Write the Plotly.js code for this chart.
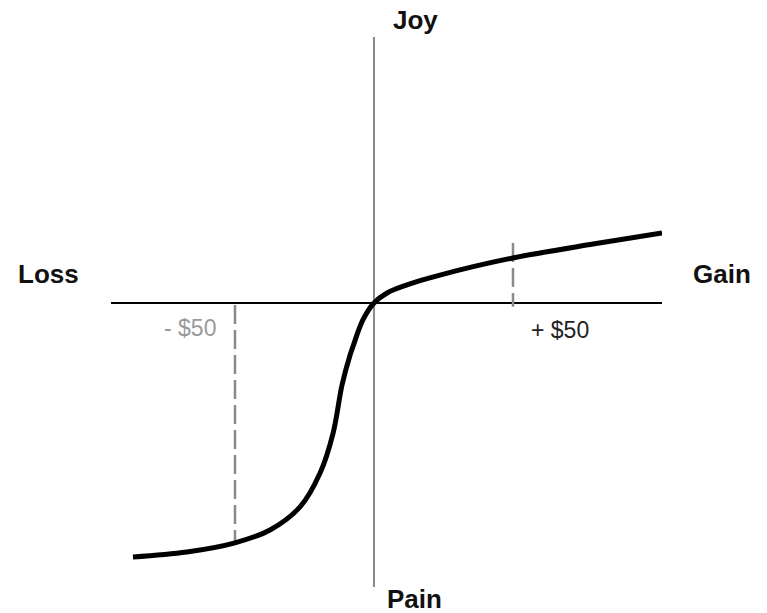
<!DOCTYPE html>
<html>
<head>
<meta charset="utf-8">
<script src="https://cdn.plot.ly/plotly-3.0.1.min.js"></script>
<style>html,body{margin:0;padding:0;background:#fff;}#chart{width:767px;height:613px;}</style>
</head>
<body>
<div id="chart"></div>
<script>
// Value function (x: dollar change, y: felt value)
var curveX = [-86.7, -67.3, -50, -37.4, -26.6, -19.4, -14.7, -11.5, -8.6, -7.6, -4.0, 0, 4.7, 11.9, 20.1, 30.9, 50, 78.8, 103.6];
var curveY = [-91.4, -89.6, -86.3, -81.7, -73.4, -61.2, -46.8, -29.5, -18.7, -15.8, -6.1, 0, 3.6, 6.5, 9.0, 11.9, 16.2, 21.2, 25.2];
// Reference markers at -$50 and +$50
var lossMarkX = [-50, -50];
var lossMarkY = [-0.7, -86.3];
var gainMarkX = [50, 50];
var gainMarkY = [21.6, -1.4];
var markLabels = ['- $50', '+ $50'];
var axisLabels = ['Joy', 'Pain', 'Loss', 'Gain'];

var traces = [
  {x: lossMarkX, y: lossMarkY, mode: 'lines', line: {color: '#8a8a8a', width: 2.5, dash: '19px,6px'}, hoverinfo: 'skip'},
  {x: gainMarkX, y: gainMarkY, mode: 'lines', line: {color: '#8a8a8a', width: 2.5, dash: '19px,6px'}, hoverinfo: 'skip'},
  {x: curveX, y: curveY, mode: 'lines', line: {color: '#000', width: 5, shape: 'spline', smoothing: 1}, hoverinfo: 'skip'}
];

var bold = {family: 'Liberation Sans, Arial, sans-serif', size: 26, color: '#111'};
var small = {family: 'Liberation Sans, Arial, sans-serif', size: 23};
var layout = {
  width: 767, height: 613,
  margin: {l: 111, r: 105, t: 37, b: 26},
  paper_bgcolor: '#fff', plot_bgcolor: '#fff',
  showlegend: false,
  xaxis: {range: [-94.6, 103.6], showgrid: false, showticklabels: false, ticks: '', showline: false,
          zeroline: true, zerolinecolor: '#8a8a8a', zerolinewidth: 2},
  yaxis: {range: [-102.2, 95.7], showgrid: false, showticklabels: false, ticks: '', showline: false,
          zeroline: true, zerolinecolor: '#000', zerolinewidth: 1.5},
  annotations: [
    {text: '<b>' + axisLabels[0] + '</b>', xref: 'paper', yref: 'paper', x: 0.552, y: 1.031, showarrow: false, font: bold, xanchor: 'center', yanchor: 'middle'},
    {text: '<b>' + axisLabels[1] + '</b>', xref: 'paper', yref: 'paper', x: 0.550, y: -0.022, showarrow: false, font: bold, xanchor: 'center', yanchor: 'middle'},
    {text: '<b>' + axisLabels[2] + '</b>', xref: 'paper', yref: 'paper', x: -0.114, y: 0.569, showarrow: false, font: bold, xanchor: 'center', yanchor: 'middle'},
    {text: '<b>' + axisLabels[3] + '</b>', xref: 'paper', yref: 'paper', x: 1.109, y: 0.569, showarrow: false, font: bold, xanchor: 'center', yanchor: 'middle'},
    {text: markLabels[0], xref: 'paper', yref: 'paper', x: 0.144, y: 0.471, showarrow: false, font: Object.assign({color: '#9a9a9a'}, small), xanchor: 'center', yanchor: 'middle'},
    {text: markLabels[1], xref: 'paper', yref: 'paper', x: 0.815, y: 0.467, showarrow: false, font: Object.assign({color: '#222'}, small), xanchor: 'center', yanchor: 'middle'}
  ]
};
Plotly.newPlot('chart', traces, layout, {staticPlot: true, displayModeBar: false});
</script>
</body>
</html>
